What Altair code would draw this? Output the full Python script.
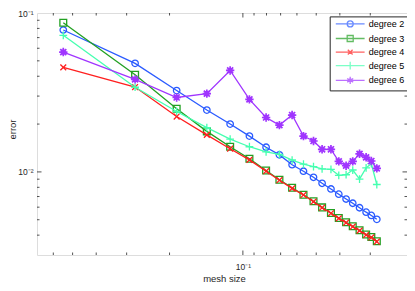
import altair as alt
import pandas as pd

# ---- data ----
mesh_size = [0.546, 0.277, 0.187, 0.1406, 0.1128, 0.094, 0.0803, 0.0708, 0.0628, 0.0564,
             0.0513, 0.0473, 0.0435, 0.0404, 0.0377, 0.0354, 0.0332, 0.0312, 0.0297, 0.0282]
series_names = ["degree 2", "degree 3", "degree 4", "degree 5", "degree 6"]
err_deg2 = [0.0782, 0.0482, 0.0325, 0.0245, 0.0200, 0.0168, 0.0143, 0.0128, 0.0111, 0.0101,
            0.00925, 0.00848, 0.00781, 0.00724, 0.00675, 0.00635, 0.00595, 0.00558, 0.00532, 0.00503]
err_deg3 = [0.0869, 0.0409, 0.0250, 0.0180, 0.0144, 0.0121, 0.0102, 0.00893, 0.00794, 0.00719,
            0.00653, 0.00598, 0.00551, 0.00513, 0.00482, 0.00455, 0.00429, 0.00404, 0.00389, 0.00366]
err_deg4 = [0.0455, 0.0342, 0.0223, 0.0171, 0.0140, 0.0119, 0.0101, 0.00887, 0.00788, 0.00716,
            0.00649, 0.00595, 0.00549, 0.00510, 0.00479, 0.00452, 0.00427, 0.00401, 0.00387, 0.00364]
err_deg5 = [0.0724, 0.0341, 0.0240, 0.0190, 0.0161, 0.0144, 0.01335, 0.01288, 0.01188, 0.01121,
            0.01081, 0.01046, 0.01038, 0.00952, 0.00960, 0.01028, 0.00900, 0.01061, 0.01126, 0.00833]
err_deg6 = [0.0568, 0.0382, 0.0294, 0.0311, 0.0435, 0.0286, 0.0220, 0.0197, 0.0228, 0.0168,
            0.01565, 0.01388, 0.01388, 0.01166, 0.01094, 0.01166, 0.0130, 0.01236, 0.01171, 0.01053]
x_minor_ticks = [0.03, 0.04, 0.05, 0.06, 0.07, 0.08, 0.09, 0.2, 0.3, 0.4, 0.5, 0.6]
x_major_ticks = [0.1]
y_minor_ticks = [0.004, 0.005, 0.006, 0.007, 0.008, 0.009,
                 0.02, 0.03, 0.04, 0.05, 0.06, 0.07, 0.08, 0.09]
y_major_ticks = [0.01]
x_label_values = [0.1]
y_label_values = [0.01, 0.1]
x_domain = [0.0212, 0.7]
y_domain = [0.003, 0.1]

# ---- styles ----
colors = ["#2b5bff", "#22a022", "#ff1f1f", "#45ffb0", "#a035ff"]
FONT = "Liberation Sans"
AX = "#262626"
W, H = 370, 242

circle_p = "M1,0A1,1 0 1,1 -1,0A1,1 0 1,1 1,0Z"
square_p = "M-1,-1L1,-1L1,1L-1,1Z"
x_p = "M-1,-1L1,1M-1,1L1,-1"
plus_p = "M-1,0L1,0M0,-1L0,1"
star_p = ("M-1,0L1,0M0,-1L0,1M-0.72,-0.72L0.72,0.72M-0.72,0.72L0.72,-0.72"
          "M0.45,0A0.45,0.45 0 1,1 -0.45,0A0.45,0.45 0 1,1 0.45,0")
marker_paths = [circle_p, square_p, x_p, plus_p, star_p]
marker_sizes = [42, 46, 34, 60, 70]
marker_sw = [1.3, 1.3, 1.3, 1.3, 1.7]

L = "M-4.8,0L4.8,0"
legend_paths = [
    L + "M1,0A1,1 0 1,1 -1,0A1,1 0 1,1 1,0",
    L + "M-1,-1L1,-1L1,1L-1,1Z",
    L + "M-0.8,-0.8L0.8,0.8M-0.8,0.8L0.8,-0.8",
    L + "M0,-1.3L0,1.3",
    L + "M0,-1.2L0,1.2M-1,-0.6L1,0.6M-1,0.6L1,-0.6M0.5,0A0.5,0.5 0 1,1 -0.5,0A0.5,0.5 0 1,1 0.5,0",
]

errs = [err_deg2, err_deg3, err_deg4, err_deg5, err_deg6]
rows = []
for name, e in zip(series_names, errs):
    for h, v in zip(mesh_size, e):
        rows.append({"series": name, "h": h, "err": v})
df = pd.DataFrame(rows)

xscale = alt.Scale(type="log", domain=x_domain, reverse=True, nice=False)
yscale = alt.Scale(type="log", domain=y_domain, nice=False)


def xenc():
    return alt.X("h:Q", scale=xscale, axis=alt.Axis(
        values=x_label_values, labelExpr="'10\u207b\u00b9'", ticks=False, tickSize=0,
        domain=False, grid=False, labelFont=FONT, labelFontSize=8.5, labelColor=AX,
        labelPadding=7, title="mesh size", titleFont=FONT, titleFontSize=9.5,
        titleFontWeight="normal", titleColor=AX, titleX=187, titleY=26,
        titleBaseline="alphabetic", titleAlign="center"))


def yenc():
    return alt.Y("err:Q", scale=yscale, axis=alt.Axis(
        values=y_label_values,
        labelExpr="datum.value > 0.05 ? '10\u207b\u00b9' : '10\u207b\u00b2'",
        ticks=False, tickSize=0, domain=False, grid=False, labelFont=FONT,
        labelFontSize=8.5, labelColor=AX, labelPadding=4, title="error",
        titleFont=FONT, titleFontSize=9.5, titleFontWeight="normal", titleColor=AX,
        titleX=-21.5, titleY=116, titleAngle=270, titleBaseline="alphabetic",
        titleAlign="center"))


layers = []

# inward ticks (MATLAB style)
for vals, ln in [(x_minor_ticks, 2.5), (x_major_ticks, 4.5)]:
    tdf = pd.DataFrame({"h": vals})
    layers.append(alt.Chart(tdf).mark_rule(color=AX, strokeWidth=0.8).encode(
        x=xenc(), y=alt.value(H), y2=alt.value(H - ln)))
    layers.append(alt.Chart(tdf).mark_rule(color=AX, strokeWidth=0.8).encode(
        x=xenc(), y=alt.value(0), y2=alt.value(ln)))
for vals, ln in [(y_minor_ticks, 2.5), (y_major_ticks, 4.5)]:
    tdf = pd.DataFrame({"err": vals})
    layers.append(alt.Chart(tdf).mark_rule(color=AX, strokeWidth=0.8).encode(
        y=yenc(), x=alt.value(0), x2=alt.value(ln)))
    layers.append(alt.Chart(tdf).mark_rule(color=AX, strokeWidth=0.8).encode(
        y=yenc(), x=alt.value(W), x2=alt.value(W - ln)))

base = alt.Chart(df)
for i, name in enumerate(series_names):
    sub = base.transform_filter(alt.datum.series == name)
    layers.append(sub.mark_line(color=colors[i], strokeWidth=1.3).encode(
        x=xenc(), y=yenc(), order="h:Q"))
    layers.append(sub.mark_point(shape=marker_paths[i], filled=False, color=colors[i],
                                 size=marker_sizes[i], strokeWidth=marker_sw[i],
                                 opacity=1).encode(x=xenc(), y=yenc()))

leg = alt.Legend(title=None, orient="none", legendX=292.7, legendY=3.4, padding=3,
                 symbolOffset=13, labelOffset=14, rowPadding=1.6, labelFont=FONT,
                 labelFontSize=9, labelColor="black", strokeColor=AX, fillColor="white",
                 symbolSize=36, symbolStrokeWidth=1.3, cornerRadius=0)
layers.append(base.transform_filter("false").mark_point(filled=False, size=36,
                                                        strokeWidth=1.3).encode(
    shape=alt.Shape("series:N", scale=alt.Scale(domain=series_names, range=legend_paths),
                    legend=leg),
    color=alt.Color("series:N", scale=alt.Scale(domain=series_names, range=colors),
                    legend=leg)))

chart = alt.layer(*layers).properties(
    width=W, height=H,
    padding={"left": 29, "top": 5, "right": 0, "bottom": 28},
    autosize=alt.AutoSizeParams(type="none"),
).configure_view(stroke=AX, strokeWidth=1).configure(font=FONT, background="white")

chart.save("out.html", embed_options={"renderer": "svg", "actions": False})
